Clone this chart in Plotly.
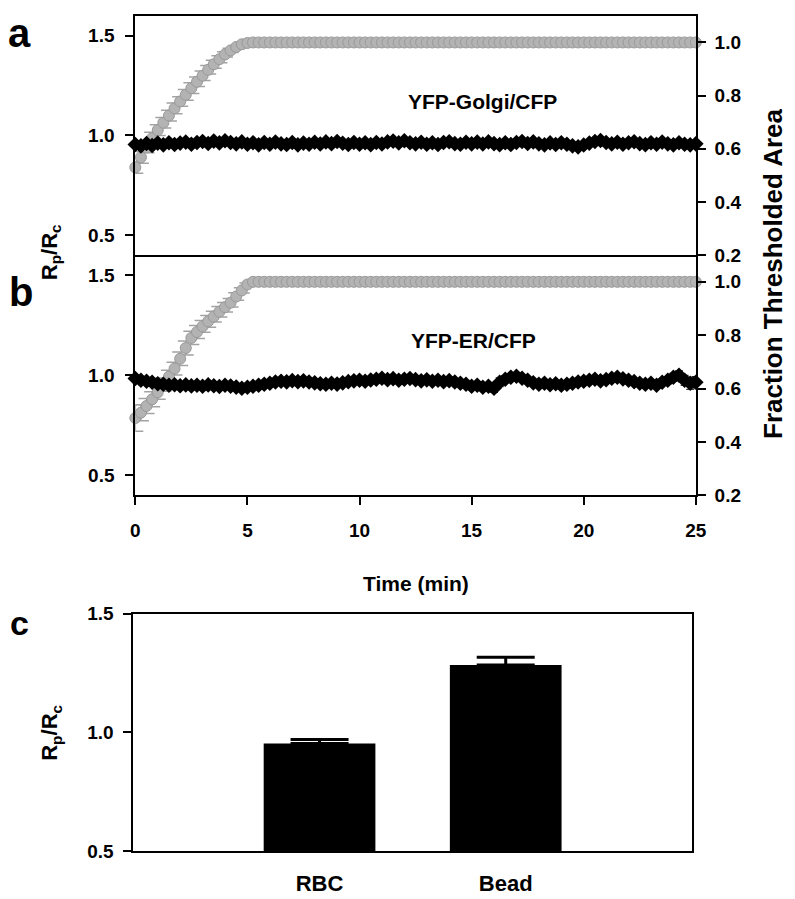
import plotly.graph_objects as go

# ---------------- data ----------------
time_min = [0, 0.25, 0.5, 0.75, 1.0, 1.25, 1.5, 1.75, 2.0, 2.25, 2.5,
            2.75, 3.0, 3.25, 3.5, 3.75, 4.0, 4.25, 4.5, 4.75, 5.0,
            5.25, 5.5, 5.75, 6.0, 6.25, 6.5, 6.75, 7.0, 7.25, 7.5,
            7.75, 8.0, 8.25, 8.5, 8.75, 9.0, 9.25, 9.5, 9.75, 10.0,
            10.25, 10.5, 10.75, 11.0, 11.25, 11.5, 11.75, 12.0, 12.25, 12.5,
            12.75, 13.0, 13.25, 13.5, 13.75, 14.0, 14.25, 14.5, 14.75, 15.0,
            15.25, 15.5, 15.75, 16.0, 16.25, 16.5, 16.75, 17.0, 17.25, 17.5,
            17.75, 18.0, 18.25, 18.5, 18.75, 19.0, 19.25, 19.5, 19.75, 20.0,
            20.25, 20.5, 20.75, 21.0, 21.25, 21.5, 21.75, 22.0, 22.25, 22.5,
            22.75, 23.0, 23.25, 23.5, 23.75, 24.0, 24.25, 24.5, 24.75, 25.0]

# Panel a: YFP-Golgi/CFP
frac_golgi = [0.530, 0.568, 0.605, 0.640, 0.670, 0.698, 0.725, 0.752, 0.778, 0.803, 0.828,
              0.852, 0.875, 0.897, 0.918, 0.937, 0.955, 0.970, 0.983, 0.993, 0.998,
              1.0, 1.0, 1.0, 1.0, 1.0, 1.0, 1.0, 1.0, 1.0, 1.0,
              1.0, 1.0, 1.0, 1.0, 1.0, 1.0, 1.0, 1.0, 1.0, 1.0,
              1.0, 1.0, 1.0, 1.0, 1.0, 1.0, 1.0, 1.0, 1.0, 1.0,
              1.0, 1.0, 1.0, 1.0, 1.0, 1.0, 1.0, 1.0, 1.0, 1.0,
              1.0, 1.0, 1.0, 1.0, 1.0, 1.0, 1.0, 1.0, 1.0, 1.0,
              1.0, 1.0, 1.0, 1.0, 1.0, 1.0, 1.0, 1.0, 1.0, 1.0,
              1.0, 1.0, 1.0, 1.0, 1.0, 1.0, 1.0, 1.0, 1.0, 1.0,
              1.0, 1.0, 1.0, 1.0, 1.0, 1.0, 1.0, 1.0, 1.0, 1.0]
frac_golgi_err = [0.022, 0.022, 0.020, 0.022, 0.020, 0.020, 0.020, 0.020, 0.018, 0.020, 0.020,
                  0.018, 0.018, 0.016, 0.015, 0.013, 0.010, 0.008, 0.005, 0.003, 0.002,
                  0, 0, 0, 0, 0, 0, 0, 0, 0, 0,
                  0, 0, 0, 0, 0, 0, 0, 0, 0, 0,
                  0, 0, 0, 0, 0, 0, 0, 0, 0, 0,
                  0, 0, 0, 0, 0, 0, 0, 0, 0, 0,
                  0, 0, 0, 0, 0, 0, 0, 0, 0, 0,
                  0, 0, 0, 0, 0, 0, 0, 0, 0, 0,
                  0, 0, 0, 0, 0, 0, 0, 0, 0, 0,
                  0, 0, 0, 0, 0, 0, 0, 0, 0, 0]
ratio_golgi = [0.955, 0.948, 0.960, 0.950, 0.962, 0.953, 0.964, 0.955, 0.962, 0.967, 0.956,
               0.965, 0.970, 0.960, 0.972, 0.963, 0.974, 0.965, 0.958, 0.968, 0.956,
               0.964, 0.953, 0.965, 0.956, 0.967, 0.958, 0.955, 0.965, 0.953, 0.962,
               0.956, 0.966, 0.957, 0.968, 0.959, 0.970, 0.961, 0.955, 0.965, 0.956,
               0.964, 0.954, 0.965, 0.957, 0.968, 0.972, 0.963, 0.974, 0.964, 0.958,
               0.966, 0.956, 0.964, 0.955, 0.965, 0.969, 0.959, 0.956, 0.966, 0.958,
               0.967, 0.957, 0.968, 0.959, 0.954, 0.964, 0.955, 0.965, 0.970, 0.960,
               0.968, 0.958, 0.953, 0.963, 0.955, 0.964, 0.956, 0.948, 0.943, 0.952,
               0.962, 0.970, 0.975, 0.965, 0.958, 0.966, 0.956, 0.964, 0.969, 0.959,
               0.954, 0.964, 0.956, 0.967, 0.958, 0.953, 0.964, 0.956, 0.953, 0.958]
ratio_golgi_err = [0.012, 0.010, 0.011, 0.012, 0.010, 0.011, 0.012, 0.010, 0.011, 0.010, 0.012,
                   0.011, 0.010, 0.012, 0.011, 0.010, 0.012, 0.011, 0.010, 0.011, 0.012,
                   0.010, 0.011, 0.012, 0.010, 0.011, 0.010, 0.012, 0.011, 0.010, 0.011,
                   0.012, 0.010, 0.011, 0.012, 0.010, 0.011, 0.010, 0.012, 0.011, 0.010,
                   0.011, 0.012, 0.010, 0.011, 0.012, 0.010, 0.014, 0.012, 0.011, 0.010,
                   0.012, 0.011, 0.010, 0.011, 0.012, 0.010, 0.011, 0.012, 0.010, 0.011,
                   0.010, 0.012, 0.011, 0.010, 0.011, 0.012, 0.010, 0.011, 0.012, 0.010,
                   0.011, 0.010, 0.012, 0.011, 0.010, 0.011, 0.012, 0.013, 0.012, 0.011,
                   0.010, 0.011, 0.012, 0.010, 0.011, 0.012, 0.010, 0.011, 0.010, 0.012,
                   0.011, 0.010, 0.012, 0.011, 0.010, 0.011, 0.012, 0.010, 0.011, 0.012]

# Panel b: YFP-ER/CFP
frac_er = [0.490, 0.510, 0.535, 0.560, 0.586, 0.615, 0.645, 0.675, 0.712, 0.752, 0.790,
           0.812, 0.833, 0.852, 0.870, 0.888, 0.905, 0.922, 0.945, 0.968, 0.990,
           1.0, 1.0, 1.0, 1.0, 1.0, 1.0, 1.0, 1.0, 1.0, 1.0,
           1.0, 1.0, 1.0, 1.0, 1.0, 1.0, 1.0, 1.0, 1.0, 1.0,
           1.0, 1.0, 1.0, 1.0, 1.0, 1.0, 1.0, 1.0, 1.0, 1.0,
           1.0, 1.0, 1.0, 1.0, 1.0, 1.0, 1.0, 1.0, 1.0, 1.0,
           1.0, 1.0, 1.0, 1.0, 1.0, 1.0, 1.0, 1.0, 1.0, 1.0,
           1.0, 1.0, 1.0, 1.0, 1.0, 1.0, 1.0, 1.0, 1.0, 1.0,
           1.0, 1.0, 1.0, 1.0, 1.0, 1.0, 1.0, 1.0, 1.0, 1.0,
           1.0, 1.0, 1.0, 1.0, 1.0, 1.0, 1.0, 1.0, 1.0, 1.0]
frac_er_err = [0.050, 0.030, 0.028, 0.028, 0.026, 0.025, 0.024, 0.024, 0.025, 0.026, 0.025,
               0.024, 0.022, 0.022, 0.020, 0.020, 0.018, 0.016, 0.014, 0.010, 0.006,
               0, 0, 0, 0, 0, 0, 0, 0, 0, 0,
               0, 0, 0, 0, 0, 0, 0, 0, 0, 0,
               0, 0, 0, 0, 0, 0, 0, 0, 0, 0,
               0, 0, 0, 0, 0, 0, 0, 0, 0, 0,
               0, 0, 0, 0, 0, 0, 0, 0, 0, 0,
               0, 0, 0, 0, 0, 0, 0, 0, 0, 0,
               0, 0, 0, 0, 0, 0, 0, 0, 0, 0,
               0, 0, 0, 0, 0, 0, 0, 0, 0, 0]
ratio_er = [0.984, 0.975, 0.970, 0.965, 0.958, 0.955, 0.950, 0.953, 0.948, 0.952, 0.947,
            0.950, 0.945, 0.952, 0.948, 0.944, 0.950, 0.946, 0.941, 0.935, 0.940,
            0.945, 0.950, 0.955, 0.960, 0.966, 0.970, 0.967, 0.973, 0.968, 0.972,
            0.966, 0.962, 0.958, 0.955, 0.960, 0.956, 0.962, 0.968, 0.972, 0.975,
            0.970, 0.976, 0.980, 0.985, 0.978, 0.983, 0.975, 0.980, 0.984, 0.978,
            0.972, 0.977, 0.970, 0.975, 0.968, 0.973, 0.966, 0.960, 0.955, 0.945,
            0.950, 0.940, 0.945, 0.935, 0.965, 0.980, 0.990, 0.995, 0.985, 0.975,
            0.962, 0.955, 0.960, 0.953, 0.958, 0.950, 0.955, 0.960, 0.966, 0.970,
            0.975, 0.980, 0.972, 0.978, 0.985, 0.990, 0.982, 0.975, 0.968, 0.960,
            0.955, 0.960, 0.950, 0.965, 0.975, 0.990, 1.000, 0.975, 0.960, 0.965]
ratio_er_err = [0.015, 0.014, 0.013, 0.014, 0.015, 0.013, 0.014, 0.015, 0.014, 0.013, 0.014,
                0.015, 0.014, 0.013, 0.014, 0.015, 0.014, 0.013, 0.015, 0.016, 0.014,
                0.013, 0.014, 0.015, 0.014, 0.013, 0.014, 0.015, 0.014, 0.013, 0.014,
                0.015, 0.014, 0.013, 0.014, 0.015, 0.014, 0.013, 0.014, 0.015, 0.014,
                0.013, 0.014, 0.015, 0.014, 0.013, 0.014, 0.015, 0.014, 0.013, 0.014,
                0.015, 0.014, 0.013, 0.014, 0.015, 0.014, 0.013, 0.014, 0.015, 0.016,
                0.018, 0.017, 0.016, 0.020, 0.022, 0.018, 0.016, 0.015, 0.014, 0.013,
                0.014, 0.015, 0.014, 0.013, 0.014, 0.015, 0.014, 0.013, 0.014, 0.015,
                0.014, 0.013, 0.014, 0.015, 0.014, 0.013, 0.014, 0.015, 0.014, 0.013,
                0.014, 0.015, 0.014, 0.016, 0.018, 0.020, 0.022, 0.025, 0.030, 0.028]

# Panel c
categories = ["RBC", "Bead"]
bar_values = [0.953, 1.283]
bar_errors = [0.016, 0.033]

time_ticks = [0, 5, 10, 15, 20, 25]
inner_ticks = [5, 10, 15, 20]
ratio_ticks = [0.5, 1.0, 1.5]
frac_ticks = [0.2, 0.4, 0.6, 0.8, 1.0]

# ---------------- layout helpers ----------------
W, H = 795, 899
def px(xp):
    return xp / W
def py(yp):
    return 1 - yp / H

FONT = "Liberation Sans, Arial, sans-serif"
GRAY_FILL = "#b3b3b3"
GRAY_LINE = "#999999"
GRAY_ERR = "#a3a3a3"

fig = go.Figure()

def add_panel(xa, yfrac, yratio, frac, frac_err, ratio, ratio_err):
    fig.add_trace(go.Scatter(
        x=time_min, y=frac, xaxis=xa, yaxis=yfrac, mode="markers",
        marker=dict(symbol="circle", size=11, color=GRAY_FILL,
                    line=dict(color=GRAY_LINE, width=1)),
        error_y=dict(type="data", array=frac_err, color=GRAY_ERR,
                     thickness=1.5, width=8),
        cliponaxis=False, showlegend=False, hoverinfo="skip"))
    fig.add_trace(go.Scatter(
        x=time_min, y=ratio, xaxis=xa, yaxis=yratio, mode="lines+markers",
        line=dict(color="black", width=3),
        marker=dict(symbol="diamond", size=12, color="black"),
        error_y=dict(type="data", array=ratio_err, color="black",
                     thickness=1, width=4),
        cliponaxis=False, showlegend=False, hoverinfo="skip"))

add_panel("x", "y", "y2", frac_golgi, frac_golgi_err, ratio_golgi, ratio_golgi_err)
add_panel("x2", "y3", "y4", frac_er, frac_er_err, ratio_er, ratio_er_err)

fig.add_trace(go.Bar(
    x=categories, y=bar_values, xaxis="x5", yaxis="y5",
    width=0.6, marker=dict(color="black", line=dict(width=0)),
    error_y=dict(type="data", array=bar_errors, arrayminus=[0, 0],
                 symmetric=False, color="black", thickness=3, width=29),
    showlegend=False, hoverinfo="skip"))

xdom = [px(133), px(705)]
dom_a = [py(251), py(6)]
dom_b = [py(497), py(251)]

tickfont = dict(family=FONT, size=19, color="black", weight="bold")
axline = dict(showline=True, linecolor="black", linewidth=2, showgrid=False,
              zeroline=False, ticklen=8, tickwidth=2, tickcolor="black")
inner = dict(showticklabels=False, showline=False, showgrid=False,
             zeroline=False, ticklen=8, tickwidth=2, tickcolor="black",
             ticks="inside", side="top", range=[0, 25], tickvals=inner_ticks)

layout = dict(
    width=W, height=H, margin=dict(l=0, r=0, t=0, b=0),
    paper_bgcolor="white", plot_bgcolor="rgba(0,0,0,0)",
    font=dict(family=FONT, color="black", weight="bold"),
    showlegend=False,
    # panel a
    xaxis=dict(domain=xdom, anchor="y", range=[0, 25], tickvals=time_ticks,
               ticks="", showticklabels=False, mirror=True, **axline),
    xaxis3=dict(overlaying="x", anchor="y", **inner),
    yaxis=dict(domain=dom_a, anchor="x", side="right", range=[0.2, 1.1],
               tickvals=frac_ticks, tickformat=".1f", ticks="outside",
               ticklabelstandoff=5, tickfont=tickfont, **axline),
    yaxis2=dict(overlaying="y", anchor="x", side="left", range=[0.4, 1.6],
                tickvals=ratio_ticks, tickformat=".1f", ticks="outside",
                ticklabelstandoff=7, tickfont=tickfont, **axline),
    # panel b
    xaxis2=dict(domain=xdom, anchor="y3", range=[0, 25], tickvals=time_ticks,
                ticks="outside", ticklabelstandoff=9, tickfont=tickfont, **axline),
    xaxis4=dict(overlaying="x2", anchor="y3", **inner),
    yaxis3=dict(domain=dom_b, anchor="x2", side="right", range=[0.2, 1.1],
                tickvals=frac_ticks, tickformat=".1f", ticks="outside",
                ticklabelstandoff=5, tickfont=tickfont, **axline),
    yaxis4=dict(overlaying="y3", anchor="x2", side="left", range=[0.4, 1.6],
                tickvals=ratio_ticks, tickformat=".1f", ticks="outside",
                ticklabelstandoff=7, tickfont=tickfont, **axline),
    # panel c
    xaxis5=dict(domain=[px(131), px(701)], anchor="y5", type="category",
                range=[-1, 2], ticks="", mirror=True,
                tickfont=dict(family=FONT, size=22, color="black", weight="bold"),
                ticklabelstandoff=12, **axline),
    yaxis5=dict(domain=[py(861), py(618)], anchor="x5", range=[0.5, 1.5],
                tickvals=ratio_ticks, tickformat=".1f", ticks="outside",
                mirror=True, ticklabelstandoff=6, tickfont=tickfont, **axline),
)
fig.update_layout(**layout)

def ann(text, x, y, size, angle=0):
    fig.add_annotation(text=text, x=px(x), y=py(y), xref="paper", yref="paper",
                       showarrow=False, textangle=angle, xanchor="center",
                       yanchor="middle",
                       font=dict(family=FONT, size=size, color="black", weight="bold"))

ann("YFP-Golgi/CFP", 487, 94, 21)
ann("YFP-ER/CFP", 478, 338, 21)
ann("a", 15, 24, 40)
ann("b", 16, 289, 40)
ann("c", 15, 628, 34)
ann("R<sub>p</sub>/R<sub>c</sub>", 47, 248, 22, -90)
ann("Fraction Thresholded Area", 783, 270, 26, -90)
ann("R<sub>p</sub>/R<sub>c</sub>", 47, 740, 22, -90)
ann("Time (min)", 419, 587, 21)

fig.write_html("out.html",
               config={"displayModeBar": False, "staticPlot": True},
               post_script="document.body.style.margin='0px';document.body.style.overflow='hidden';")
